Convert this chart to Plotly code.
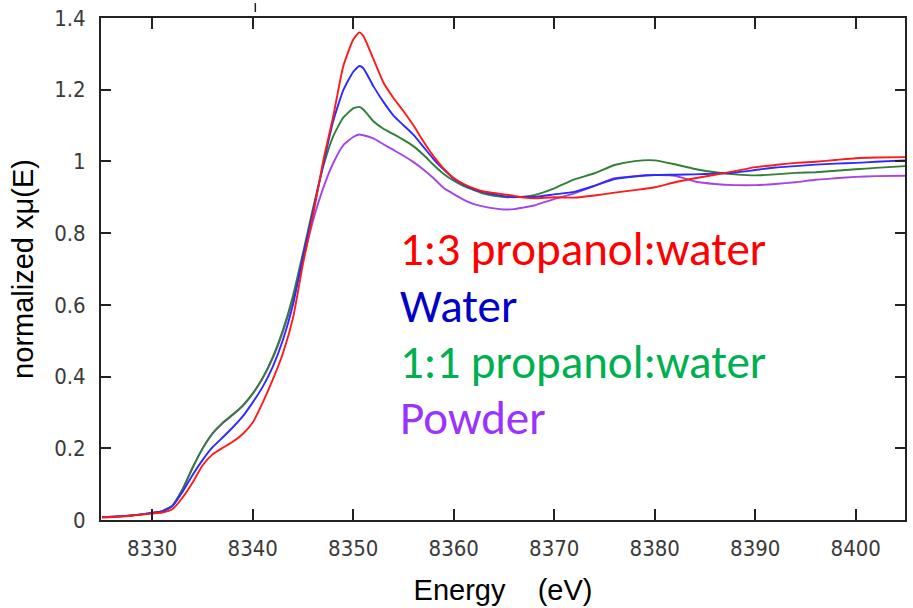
import plotly.graph_objects as go

# Energy grid (eV)
energy = [8325, 8328, 8330, 8331, 8332, 8333, 8334, 8335, 8336, 8337, 8338, 8339,
          8340, 8341, 8342, 8343, 8344, 8345, 8346, 8347, 8348, 8349, 8350, 8350.6,
          8351, 8352, 8353, 8354, 8355, 8356, 8357, 8358, 8359, 8360, 8361, 8362,
          8363, 8364, 8365, 8366, 8367, 8368, 8370, 8372, 8374, 8376, 8378, 8380,
          8382, 8384, 8386, 8388, 8390, 8392, 8394, 8396, 8398, 8400, 8402, 8405]

# Normalized absorption for each sample
mu_propanol_1_3 = [0.007, 0.012, 0.018, 0.021, 0.030, 0.062, 0.104, 0.152, 0.183, 0.201, 0.218, 0.240,
                   0.272, 0.328, 0.392, 0.465, 0.563, 0.715, 0.850, 1.000, 1.125, 1.265, 1.340, 1.360,
                   1.350, 1.286, 1.220, 1.177, 1.140, 1.100, 1.055, 1.014, 0.980, 0.954, 0.937, 0.925,
                   0.916, 0.912, 0.908, 0.904, 0.899, 0.897, 0.900, 0.899, 0.905, 0.913, 0.920, 0.928,
                   0.942, 0.953, 0.963, 0.973, 0.984, 0.990, 0.996, 0.999, 1.004, 1.009, 1.011, 1.012]

mu_water = [0.008, 0.013, 0.020, 0.024, 0.038, 0.078, 0.125, 0.167, 0.203, 0.230, 0.258, 0.289,
            0.328, 0.372, 0.428, 0.502, 0.600, 0.735, 0.860, 0.990, 1.112, 1.198, 1.250, 1.266,
            1.260, 1.210, 1.166, 1.128, 1.101, 1.074, 1.040, 1.006, 0.977, 0.952, 0.935, 0.922,
            0.914, 0.908, 0.903, 0.901, 0.901, 0.901, 0.908, 0.915, 0.932, 0.951, 0.958, 0.962,
            0.963, 0.964, 0.966, 0.969, 0.976, 0.983, 0.987, 0.991, 0.994, 0.996, 0.999, 1.003]

mu_propanol_1_1 = [0.008, 0.013, 0.020, 0.025, 0.040, 0.085, 0.145, 0.199, 0.242, 0.271, 0.294, 0.319,
                   0.353, 0.397, 0.455, 0.530, 0.625, 0.745, 0.870, 0.985, 1.070, 1.122, 1.148, 1.152,
                   1.145, 1.112, 1.091, 1.076, 1.060, 1.042, 1.018, 0.990, 0.965, 0.946, 0.931, 0.920,
                   0.910, 0.904, 0.901, 0.900, 0.902, 0.906, 0.925, 0.950, 0.967, 0.990, 1.001, 1.003,
                   0.992, 0.979, 0.970, 0.964, 0.961, 0.964, 0.968, 0.970, 0.974, 0.978, 0.982, 0.987]

mu_powder = [0.008, 0.013, 0.020, 0.025, 0.040, 0.085, 0.145, 0.199, 0.241, 0.270, 0.293, 0.318,
             0.352, 0.396, 0.452, 0.525, 0.615, 0.725, 0.835, 0.925, 0.995, 1.045, 1.068, 1.075,
             1.073, 1.064, 1.048, 1.032, 1.016, 0.998, 0.977, 0.953, 0.926, 0.909, 0.893, 0.881,
             0.874, 0.869, 0.866, 0.867, 0.872, 0.877, 0.895, 0.911, 0.932, 0.953, 0.959, 0.962,
             0.960, 0.944, 0.937, 0.934, 0.934, 0.937, 0.942, 0.949, 0.953, 0.957, 0.959, 0.960]

labels = ["1:3 propanol:water", "Water", "1:1 propanol:water", "Powder"]
line_colors = ["#ff1a1a", "#2b2bff", "#2f7f35", "#a445e6"]
text_colors = ["#ff0000", "#0000c8", "#00b050", "#9933ff"]
series = [mu_propanol_1_3, mu_water, mu_propanol_1_1, mu_powder]

W, H = 913, 608
ML, MR, MT, MB = 101, 6, 15, 88
plot_w, plot_h = W - ML - MR, H - MT - MB

fig = go.Figure()
# draw powder first so the red curve sits on top
for name, ys, col in reversed(list(zip(labels, series, line_colors))):
    fig.add_trace(go.Scatter(x=energy, y=ys, mode="lines", name=name,
                             line=dict(color=col, width=1.9, shape="spline", smoothing=0.5),
                             showlegend=False, hoverinfo="skip"))

tick_font = dict(family="Liberation Sans Narrow, DejaVu Sans Condensed, Liberation Sans",
                 size=22, color="#3a3a3a")

fig.update_xaxes(range=[8324.9, 8404.9], tickvals=[8330, 8340, 8350, 8360, 8370, 8380, 8390, 8400],
                 ticks="inside", ticklen=11, tickwidth=1.5, tickcolor="#222",
                 showline=True, linecolor="#222", linewidth=1.8, mirror="ticks",
                 showgrid=False, zeroline=False, tickfont=tick_font, ticklabelstandoff=8,
                 title=dict(text="Energy\u00a0\u00a0\u00a0\u00a0(eV)",
                            font=dict(family="Liberation Sans, Arial", size=29, color="#000"),
                            standoff=19))
fig.update_yaxes(range=[0, 1.4], tickvals=[0, 0.2, 0.4, 0.6, 0.8, 1, 1.2, 1.4],
                 ticktext=["0", "0.2", "0.4", "0.6", "0.8", "1", "1.2", "1.4"],
                 ticks="inside", ticklen=10, tickwidth=1.5, tickcolor="#222",
                 showline=True, linecolor="#222", linewidth=1.8, mirror="ticks",
                 showgrid=False, zeroline=False, tickfont=tick_font, ticklabelstandoff=9,
                 title=dict(text="normalized x\u03bc(E)",
                            font=dict(family="Liberation Sans, Arial", size=29, color="#000"),
                            standoff=12))

def px_to_paper(px, py):
    return (px - ML) / plot_w, (H - MB - py) / plot_h

# sample labels, one per line
baselines = [265, 321.7, 378.3, 435]
for text, col, by in zip(labels, text_colors, baselines):
    x0, y0 = px_to_paper(399, by + 14)
    fig.add_annotation(text=text, x=x0, y=y0, xref="paper", yref="paper",
                       xanchor="left", yanchor="bottom", showarrow=False,
                       font=dict(family="Carlito, Lato, Noto Sans", size=47, color=col))

# small tick mark peeking above the frame
sx, sy0 = px_to_paper(255.7, 9)
_, sy1 = px_to_paper(255.7, 0)
fig.add_shape(type="line", xref="paper", yref="paper", x0=sx, x1=sx, y0=sy0, y1=sy1,
              line=dict(color="#222", width=1.5))

fig.update_layout(width=W, height=H, margin=dict(l=ML, r=MR, t=MT, b=MB),
                  plot_bgcolor="white", paper_bgcolor="white")

fig.write_html("out.html")
